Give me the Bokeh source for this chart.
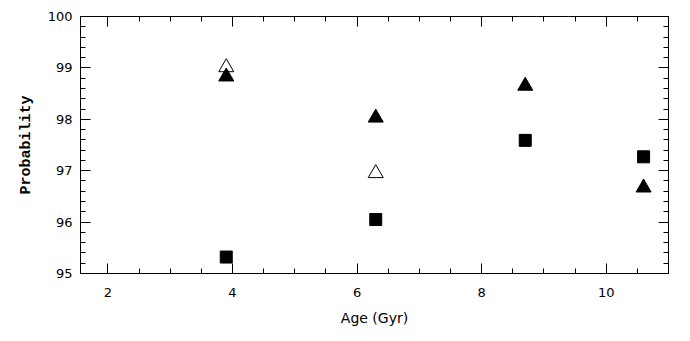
from bokeh.plotting import figure
from bokeh.models import Range1d, LinearAxis, SingleIntervalTicker, CustomJSTickFormatter
from bokeh.embed import file_html
from bokeh.resources import INLINE

# Data
filled_tri_x = [3.9, 6.3, 8.7, 10.6]
filled_tri_y = [98.83, 98.03, 98.65, 96.67]
open_tri_x = [3.9, 6.3]
open_tri_y = [99.01, 96.95]
square_x = [3.9, 6.3, 8.7, 10.6]
square_y = [95.32, 96.05, 97.59, 97.27]

FONT = "DejaVu Sans"

p = figure(width=682, height=335, output_backend="svg", toolbar_location=None,
           x_range=Range1d(1.56, 11.0), y_range=Range1d(95, 100),
           min_border_left=80, min_border_right=14, min_border_top=16, min_border_bottom=62,
           x_axis_label="Age (Gyr)", y_axis_label="Probability")

p.xgrid.visible = False
p.ygrid.visible = False
p.outline_line_color = "black"
p.outline_line_width = 1
p.background_fill_color = "white"
p.border_fill_color = "white"

def style_axis(ax, interval, nminor, labels=True):
    ax.ticker = SingleIntervalTicker(interval=interval, num_minor_ticks=nminor)
    ax.major_tick_in = 10
    ax.major_tick_out = 0
    ax.minor_tick_in = 5
    ax.minor_tick_out = 0
    ax.axis_line_color = "black"
    ax.major_tick_line_color = "black"
    ax.minor_tick_line_color = "black"
    ax.major_label_text_font = FONT
    ax.major_label_text_font_size = "13px"
    ax.major_label_text_color = "black"
    if not labels:
        ax.formatter = CustomJSTickFormatter(code="return ''")
        ax.major_label_standoff = 0

xa = p.xaxis[0]
ya = p.yaxis[0]
style_axis(xa, 2, 4)
style_axis(ya, 1, 5)
xa.major_label_standoff = 14
ya.major_label_standoff = 8
xa.axis_label_text_font = FONT
xa.axis_label_text_font_size = "14px"
xa.axis_label_text_font_style = "normal"
xa.axis_label_text_color = "black"
xa.axis_label_standoff = 10
ya.axis_label_text_font = "Liberation Mono"
ya.axis_label_text_font_size = "15px"
ya.axis_label_text_font_style = "bold"
ya.axis_label_text_color = "black"
ya.axis_label_standoff = 10

top = LinearAxis()
style_axis(top, 2, 4, labels=False)
right = LinearAxis()
style_axis(right, 1, 5, labels=False)
p.add_layout(top, "above")
p.add_layout(right, "right")

p.scatter(open_tri_x, open_tri_y, marker="triangle", size=15,
          fill_color="white", line_color="black", line_width=1)
p.scatter(filled_tri_x, filled_tri_y, marker="triangle", size=15,
          fill_color="black", line_color="black")
p.scatter(square_x, square_y, marker="square", size=12,
          fill_color="black", line_color="black")

open("out.html", "w").write(file_html(p, INLINE))
